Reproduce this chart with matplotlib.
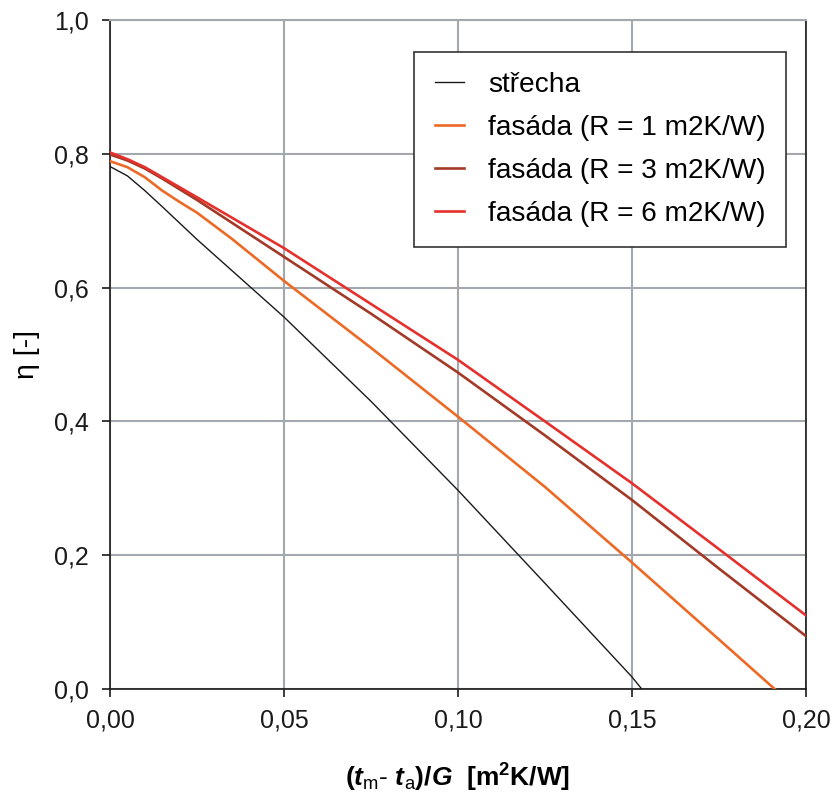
import numpy as np
import matplotlib
matplotlib.use("Agg")
import matplotlib.pyplot as plt
from matplotlib.ticker import FuncFormatter

plt.rcParams['font.family'] = ['Liberation Sans', 'DejaVu Sans']
plt.rcParams['mathtext.fontset'] = 'custom'
plt.rcParams['mathtext.rm'] = 'Liberation Sans'
plt.rcParams['mathtext.it'] = 'Liberation Sans:italic'
plt.rcParams['mathtext.bf'] = 'Liberation Sans:bold'
plt.rcParams['mathtext.bfit'] = 'Liberation Sans:bold:italic'

# data
x_strecha = [0.0, 0.005, 0.010, 0.015, 0.025, 0.050, 0.075, 0.100, 0.125, 0.150, 0.1528]
y_strecha = [0.781, 0.767, 0.745, 0.721, 0.672, 0.556, 0.430, 0.297, 0.158, 0.018, 0.0]

x_r1 = [0.0, 0.005, 0.010, 0.015, 0.020, 0.025, 0.035, 0.050, 0.075, 0.100, 0.125, 0.150, 0.175, 0.191]
y_r1 = [0.789, 0.780, 0.765, 0.745, 0.728, 0.712, 0.673, 0.610, 0.510, 0.407, 0.302, 0.189, 0.074, 0.0]

x_r3 = [0.0, 0.005, 0.010, 0.015, 0.020, 0.025, 0.050, 0.075, 0.100, 0.125, 0.150, 0.175, 0.200]
y_r3 = [0.799, 0.790, 0.778, 0.763, 0.747, 0.731, 0.646, 0.561, 0.473, 0.379, 0.2825, 0.180, 0.079]

x_r6 = [0.0, 0.005, 0.010, 0.015, 0.020, 0.025, 0.050, 0.075, 0.100, 0.125, 0.150, 0.175, 0.200]
y_r6 = [0.802, 0.792, 0.780, 0.765, 0.750, 0.735, 0.659, 0.5755, 0.492, 0.400, 0.3075, 0.209, 0.110]

labels = ['střecha', 'fasáda (R = 1 m2K/W)', 'fasáda (R = 3 m2K/W)', 'fasáda (R = 6 m2K/W)']
x_ticks = [0.0, 0.05, 0.10, 0.15, 0.20]
y_ticks = [0.0, 0.2, 0.4, 0.6, 0.8, 1.0]

fig = plt.figure(figsize=(8.34, 7.94), dpi=100)
ax = fig.add_axes([110/834, 105/794, 696/834, 669/794])

grid_col = '#a3a8ac'
ax.plot(x_strecha, y_strecha, color='#1a1a1a', lw=1.0, label=labels[0], zorder=3)
ax.plot(x_r1, y_r1, color='#ec6a25', lw=1.9, label=labels[1], zorder=3)
ax.plot(x_r3, y_r3, color='#a23a27', lw=1.9, label=labels[2], zorder=3)
ax.plot(x_r6, y_r6, color='#e5312d', lw=1.9, label=labels[3], zorder=3)

ax.set_xlim(0, 0.20)
ax.set_ylim(0, 1.0)
ax.set_xticks(x_ticks)
ax.set_yticks(y_ticks)
ax.xaxis.set_major_formatter(FuncFormatter(lambda v, p: f"{v:.2f}".replace('.', ',')))
ax.yaxis.set_major_formatter(FuncFormatter(lambda v, p: f"{v:.1f}".replace('.', ',')))
ax.grid(True, color=grid_col, lw=1.5, zorder=0)
ax.tick_params(direction='out', length=6, width=1.2, labelsize=18, colors='#1a1a1a')
ax.tick_params(axis='x', pad=8)
ax.tick_params(axis='y', pad=9)

for s in ['left', 'bottom', 'right']:
    ax.spines[s].set_color('#1a1a1a')
    ax.spines[s].set_linewidth(1.2)
ax.spines['top'].set_color(grid_col)
ax.spines['top'].set_linewidth(1.5)

ax.set_ylabel('η [-]', fontsize=20.5, labelpad=10)
ax.set_xlabel(r'$\mathbf{(}\mathbfit{t}_{\mathrm{m}}\mathbf{\text{-}}\ \mathbfit{t}_{\mathrm{a}}\mathbf{)/}\mathbfit{G}\ \ \mathbf{[m^{2}K/W]}$',
              fontsize=19, labelpad=21)

leg = ax.legend(loc='upper right', bbox_to_anchor=(0.971, 0.952), borderaxespad=0,
                fontsize=20.2, frameon=True, fancybox=False, handlelength=1.05,
                handletextpad=0.85, labelspacing=0.6, borderpad=0.72)
leg.get_frame().set_edgecolor('#333333')
leg.get_frame().set_linewidth(1.2)
leg.get_frame().set_alpha(1)

fig.savefig('out.png', dpi=100)
